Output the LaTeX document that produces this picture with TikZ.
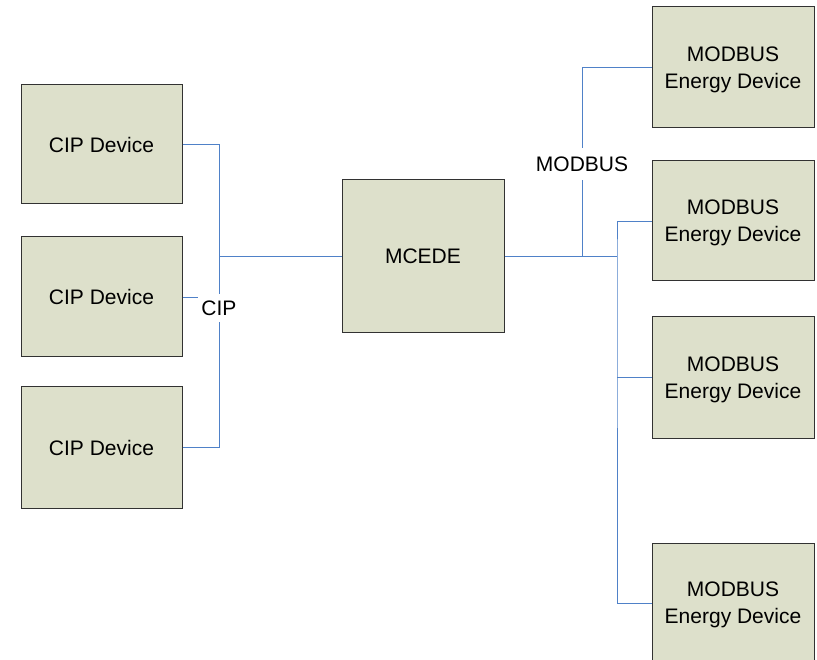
\documentclass[tikz,border=0pt]{standalone}
\usepackage{fontspec}
\setmainfont{Liberation Sans}
\definecolor{boxfill}{RGB}{221,224,203}
\definecolor{boxline}{RGB}{50,50,50}
\definecolor{linkblue}{RGB}{79,129,200}
\begin{document}
\begin{tikzpicture}[x=1pt,y=-1pt,
  devbox/.style={draw=boxline,fill=boxfill,line width=1pt,inner sep=0pt,align=center,
    text depth=0pt,font=\fontsize{21}{26.7}\selectfont},
  link/.style={draw=linkblue,line width=0.9pt},
  netlabel/.style={fill=white,inner xsep=3pt,font=\fontsize{21}{25}\selectfont}]
\useasboundingbox (0,0) rectangle (817,660);
% left CIP devices
\node[devbox,minimum width=161pt,minimum height=119pt] (c1) at (101.5,144.5) {CIP Device};
\node[devbox,minimum width=161pt,minimum height=120pt] (c2) at (101.5,297) {CIP Device};
\node[devbox,minimum width=161pt,minimum height=121pt] (c3) at (101.5,447.5) {CIP Device};
% central
\node[devbox,minimum width=162pt,minimum height=153pt] (m) at (423,256.5) {MCEDE};
% right MODBUS devices
\node[devbox,minimum width=162pt,minimum height=121pt] (b1) at (733,67.5) {MODBUS\\Energy Device};
\node[devbox,minimum width=162pt,minimum height=120pt] (b2) at (733,221) {MODBUS\\Energy Device};
\node[devbox,minimum width=162pt,minimum height=121pt] (b3) at (733,377.5) {MODBUS\\Energy Device};
\node[devbox,minimum width=162pt,minimum height=120pt] (b4) at (733,603) {MODBUS\\Energy Device};
% labels
\node[netlabel,inner ysep=6.5pt] (cip) at (219,308) {CIP};
\node[netlabel,inner ysep=8.5pt] (mbl) at (582,164) {MODBUS};
% CIP network
\draw[link] (c1.east) -| (cip.north);
\draw[link] (c3.east) -| (cip.south);
\draw[link] (c2.east) -- (c2.east -| cip.west);
\draw[link] (cip.north |- m.west) -- (m.west);
% MODBUS network
\coordinate (j2) at (617,256.5);
\coordinate (j1) at (582,256.5);
\draw[link] (m.east) -- (j2);
\draw[link] (b2.west) -| (j2) |- (b4.west);
\draw[link] (b3.west) -- (b3.west -| j2);
\draw[link] (j1) -- (mbl.south);
\draw[link] (mbl.north) |- (b1.west);
\end{tikzpicture}
\end{document}
